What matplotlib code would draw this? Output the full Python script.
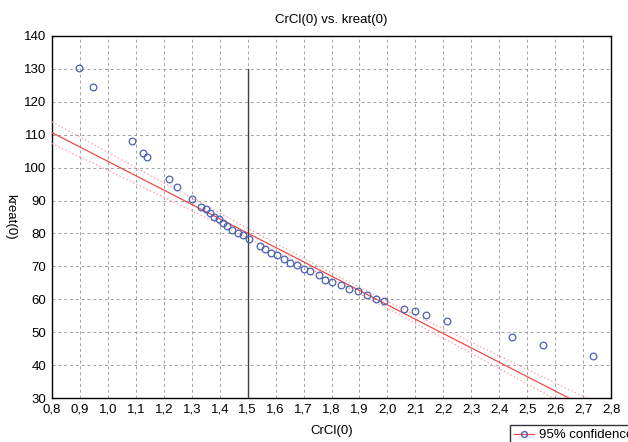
import numpy as np
import matplotlib
matplotlib.use('Agg')
import matplotlib.pyplot as plt
from matplotlib.lines import Line2D

plt.rcParams['font.family'] = ['Liberation Sans', 'DejaVu Sans']

# values
crcl = [0.897, 0.946, 1.086, 1.124, 1.140, 1.217, 1.248, 1.302, 1.334, 1.350,
        1.365, 1.381, 1.397, 1.412, 1.427, 1.443, 1.467, 1.482, 1.506, 1.545,
        1.562, 1.584, 1.606, 1.630, 1.653, 1.677, 1.700, 1.723, 1.754, 1.778,
        1.802, 1.833, 1.864, 1.895, 1.926, 1.958, 1.988, 2.058, 2.097, 2.137,
        2.213, 2.447, 2.557, 2.736]
kreat = [130.3, 124.4, 108.0, 104.3, 103.1, 96.4, 94.0, 90.4, 87.9, 87.3,
         86.1, 84.9, 84.3, 83.1, 82.3, 81.2, 80.0, 79.4, 78.2, 76.3,
         75.3, 74.0, 73.4, 72.1, 70.9, 70.3, 69.1, 68.5, 67.3, 66.0,
         65.4, 64.2, 63.0, 62.4, 61.2, 60.0, 59.4, 56.9, 56.3, 55.1,
         53.3, 48.4, 46.0, 42.9]

# regression line and 95% band
fit_intercept = 145.5
fit_slope = -43.6
band_center = 1.85    # x where the band is narrowest
band_min = 1.0        # half-width there
band_spread = 3.0     # growth of half-width per unit x

cutoff_x = 1.5
cutoff_top = 130

xs = np.linspace(0.8, 2.8, 200)
fit = fit_intercept + fit_slope * xs
hw = np.sqrt(band_min ** 2 + (band_spread * (xs - band_center)) ** 2)

fig = plt.figure(figsize=(6.28, 4.42), dpi=100)
ax = fig.add_axes([0.0828, 0.0995, 0.8902, 0.8191])

ax.plot(xs, fit, color='#f04848', lw=0.9, zorder=3)
ax.plot(xs, fit + hw, color='#f49a9a', lw=0.9, ls=(0, (1, 2)), zorder=3)
ax.plot(xs, fit - hw, color='#f49a9a', lw=0.9, ls=(0, (1, 2)), zorder=3)
ax.plot(crcl, kreat, 'o', mfc='none', mec='#4a62b0', ms=4.8, mew=0.9, zorder=4)
ax.plot([cutoff_x, cutoff_x], [30, cutoff_top], color='#404040', lw=1.0, zorder=3)

ax.set_xlim(0.8, 2.8)
ax.set_ylim(30, 140)
ax.set_xticks(np.round(np.arange(0.8, 2.81, 0.1), 1))
ax.set_xticklabels([('%.1f' % v).replace('.', ',') for v in np.arange(0.8, 2.81, 0.1)])
ax.set_yticks(range(30, 141, 10))
ax.tick_params(length=0, labelsize=9.5, pad=4)
ax.grid(True, color='#a0a0a0', ls=(0, (3, 3)), lw=0.7)
for sp in ax.spines.values():
    sp.set_linewidth(1.0)

ax.set_title('CrCl(0) vs. kreat(0)', fontsize=9.5, pad=9)
ax.set_xlabel('CrCl(0)', fontsize=9.5, labelpad=7)
ax.set_ylabel('kreat(0)', fontsize=9.5, labelpad=10, rotation=270, va='center')

handle = Line2D([], [], color='#f04848', lw=0.9, marker='o', mfc='none',
                mec='#4a62b0', ms=4.2)
fig.legend([handle], ['95% confidence'], loc='upper left',
           bbox_to_anchor=(510 / 628, 1 - 425 / 442), fontsize=9.5,
           frameon=True, fancybox=False, edgecolor='black', borderpad=0.3,
           handlelength=1.5, handletextpad=0.4, borderaxespad=0)

fig.savefig('out.png', dpi=100)
